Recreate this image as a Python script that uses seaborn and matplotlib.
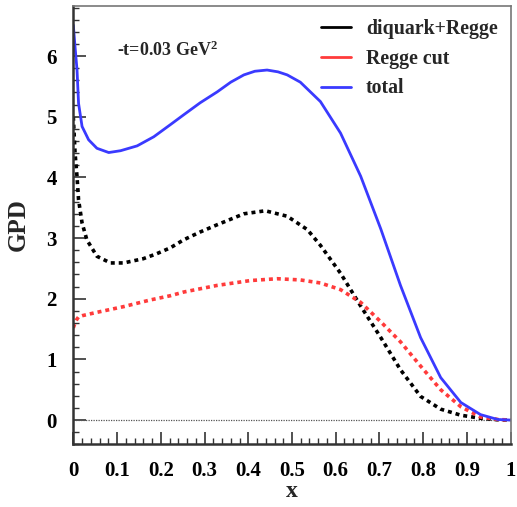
import matplotlib
matplotlib.use("Agg")
import matplotlib.pyplot as plt
import seaborn as sns
import pandas as pd
from matplotlib.ticker import MultipleLocator
from matplotlib.lines import Line2D

# ---- data ----
x_diq = [0.0, 0.004, 0.0085, 0.012, 0.02, 0.031, 0.054, 0.085, 0.115, 0.16, 0.19,
         0.222, 0.252, 0.29, 0.329, 0.39, 0.439, 0.489, 0.535, 0.565, 0.611,
         0.657, 0.703, 0.748, 0.794, 0.84, 0.886, 0.931, 0.97, 1.0]
y_diq = [5.0, 4.40, 4.01, 3.63, 3.25, 2.97, 2.70, 2.59, 2.59, 2.66, 2.74,
         2.84, 2.97, 3.10, 3.22, 3.40, 3.45, 3.36, 3.14, 2.88, 2.42,
         1.88, 1.36, 0.83, 0.39, 0.18, 0.08, 0.03, 0.005, 0.0]

x_cut = [0.0, 0.004, 0.008, 0.012, 0.02, 0.05, 0.115, 0.176, 0.222, 0.252, 0.329,
         0.405, 0.466, 0.519, 0.565, 0.611, 0.657, 0.703, 0.748, 0.794, 0.84,
         0.886, 0.931, 0.97, 1.0]
y_cut = [1.52, 1.60, 1.66, 1.70, 1.72, 1.77, 1.87, 1.98, 2.05, 2.11, 2.22,
         2.30, 2.33, 2.31, 2.26, 2.15, 1.94, 1.62, 1.29, 0.89, 0.50,
         0.22, 0.05, 0.01, 0.0]

x_tot = [0.0, 0.004, 0.0085, 0.012, 0.02, 0.035, 0.054, 0.081, 0.108, 0.146, 0.184,
         0.222, 0.252, 0.29, 0.329, 0.36, 0.39, 0.415, 0.443, 0.468, 0.489, 0.519,
         0.565, 0.611, 0.657, 0.703, 0.748, 0.794, 0.84, 0.886, 0.931, 0.97, 1.0]
y_tot = [6.51, 6.15, 5.77, 5.22, 4.84, 4.62, 4.48, 4.41, 4.44, 4.52, 4.67,
         4.87, 5.03, 5.23, 5.41, 5.57, 5.69, 5.75, 5.77, 5.74, 5.69, 5.57,
         5.25, 4.73, 4.02, 3.15, 2.22, 1.36, 0.70, 0.29, 0.09, 0.01, 0.0]

labels = ["diquark+Regge", "Regge cut", "total"]
x_ticks = [0, 0.1, 0.2, 0.3, 0.4, 0.5, 0.6, 0.7, 0.8, 0.9, 1]
x_ticklabels = ["0", "0.1", "0.2", "0.3", "0.4", "0.5", "0.6", "0.7", "0.8", "0.9", "1"]
y_ticks = [0, 1, 2, 3, 4, 5, 6]

sns.set_theme(style="ticks")
plt.rcParams["font.family"] = ["Liberation Serif", "DejaVu Serif"]
plt.rcParams["font.weight"] = "bold"
plt.rcParams["mathtext.fontset"] = "custom"
plt.rcParams["mathtext.rm"] = "Liberation Serif:bold"
plt.rcParams["mathtext.bf"] = "Liberation Serif:bold"
plt.rcParams["mathtext.it"] = "Liberation Serif:bold"

fig = plt.figure(figsize=(5.17, 5.07), dpi=100)
ax = fig.add_axes([0.1418, 0.1236, 0.8460, 0.8651])

c_black = "#000000"
c_red = "#ff3b3b"
c_blue = "#3a3aff"

df_diq = pd.DataFrame({"x": x_diq, "y": y_diq})
df_cut = pd.DataFrame({"x": x_cut, "y": y_cut})
df_tot = pd.DataFrame({"x": x_tot, "y": y_tot})

# zero line
ax.axhline(0, color="#555555", lw=0.9, dashes=(1, 1), zorder=1)

sns.lineplot(data=df_diq, x="x", y="y", ax=ax, color=c_black, lw=2.6,
             sort=False, estimator=None)
ax.lines[-1].set_dashes((1.1, 1.1))
ax.lines[-1].set_dash_capstyle("butt")
sns.lineplot(data=df_cut, x="x", y="y", ax=ax, color=c_red, lw=2.6,
             sort=False, estimator=None)
ax.lines[-1].set_dashes((1.1, 1.1))
ax.lines[-1].set_dash_capstyle("butt")
sns.lineplot(data=df_tot, x="x", y="y", ax=ax, color=c_blue, lw=2.0,
             sort=False, estimator=None)
ax.lines[-1].set_solid_joinstyle("round")

ax.set_xlim(0, 1)
ax.set_ylim(-0.4, 6.83)

ax.set_xticks(x_ticks)
ax.set_xticklabels(x_ticklabels)
ax.set_yticks(y_ticks)
ax.xaxis.set_minor_locator(MultipleLocator(0.02))
ax.yaxis.set_minor_locator(MultipleLocator(0.2))
ax.tick_params(axis="both", which="major", direction="in", length=9, width=1.2,
               labelsize=15, colors="#333333", labelcolor="black")
ax.tick_params(axis="x", which="major", pad=12)
ax.tick_params(axis="y", which="major", pad=12)
ax.tick_params(axis="both", which="minor", direction="in", length=4.5, width=1.0,
               colors="#333333")
ax.tick_params(top=False, right=False, which="both")
for lab in ax.get_xticklabels() + ax.get_yticklabels():
    lab.set_fontweight("bold")

for side in ["left", "bottom"]:
    ax.spines[side].set_linewidth(1.8)
    ax.spines[side].set_color("#333333")
for side in ["top", "right"]:
    ax.spines[side].set_linewidth(1.2)
    ax.spines[side].set_color("#777777")

ax.set_xlabel("x", fontsize=17, fontweight="bold", labelpad=0)
ax.set_ylabel("GPD", fontsize=18, fontweight="bold", labelpad=12)

ax.text(0.1, 0.898, r"-t=0.03 GeV$^{2}$", transform=ax.transAxes,
        fontsize=13, fontweight="bold", ha="left", va="center")

handles = [Line2D([], [], color=c_black, lw=2.0),
           Line2D([], [], color=c_red, lw=2.0),
           Line2D([], [], color=c_blue, lw=2.0)]
leg = ax.legend(handles, labels, loc="upper right", bbox_to_anchor=(1.0, 1.0),
                frameon=False, prop={"size": 14.3, "weight": "bold"},
                handlelength=1.5, handletextpad=0.75, labelspacing=0.5,
                borderaxespad=0.25)

fig.savefig("out.png", dpi=100)
